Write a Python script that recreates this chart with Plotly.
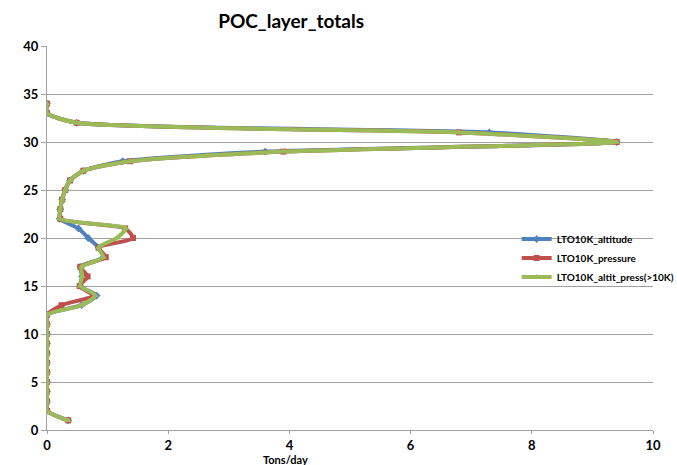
import plotly.graph_objects as go

layers = list(range(1, 35))

altitude = [0.35, 0, 0, 0, 0, 0, 0, 0, 0, 0, 0, 0,
            0.57, 0.82, 0.55, 0.58, 0.55, 0.93, 0.85, 0.68, 0.52, 0.21,
            0.22, 0.25, 0.3, 0.38, 0.6, 1.25, 3.6, 9.4, 7.3, 0.49, 0, 0]

pressure = [0.35, 0, 0, 0, 0, 0, 0, 0, 0, 0, 0, 0,
            0.24, 0.76, 0.54, 0.67, 0.55, 0.97, 0.85, 1.42, 1.29, 0.22,
            0.22, 0.25, 0.3, 0.38, 0.6, 1.37, 3.9, 9.4, 6.8, 0.49, 0, 0]

altit_press = [0.35, 0, 0, 0, 0, 0, 0, 0, 0, 0, 0, 0,
               0.57, 0.8, 0.55, 0.58, 0.57, 0.93, 0.85, 1.15, 1.3, 0.21,
               0.22, 0.25, 0.3, 0.38, 0.6, 1.37, 3.9, 9.4, 6.8, 0.49, 0, 0]

series_names = ["LTO10K_altitude", "LTO10K_pressure", "LTO10K_altit_press(>10K)"]
colors = ["#4F81BD", "#C0504D", "#9BBB59"]
symbols = ["diamond", "square", "triangle-up"]
x_ticks = [0, 2, 4, 6, 8, 10]
y_ticks = [0, 5, 10, 15, 20, 25, 30, 35, 40]

fig = go.Figure()
for name, vals, c, s in zip(series_names, [altitude, pressure, altit_press], colors, symbols):
    fig.add_trace(go.Scatter(
        x=vals, y=layers, name=name, mode="lines+markers",
        line=dict(color=c, width=4, shape="spline", smoothing=0.6),
        marker=dict(symbol=s, size=6, color=c),
    ))

font = "Lato, 'Open Sans', sans-serif"
fig.update_layout(
    width=677, height=465,
    margin=dict(l=47, r=24, t=46, b=35, autoexpand=False),
    paper_bgcolor="white", plot_bgcolor="white",
    title=dict(text="<b>POC_layer_totals</b>", x=0.43, xref="container", xanchor="center",
               y=0.955, yref="container", yanchor="middle",
               font=dict(family=font, size=19, color="black")),
    showlegend=True,
    legend=dict(x=0.775, y=0.535, xanchor="left", yanchor="top",
                font=dict(family=font, size=10, color="black", weight="bold"),
                bgcolor="rgba(0,0,0,0)", itemwidth=30, tracegroupgap=4),
    xaxis=dict(range=[0, 10], tickvals=x_ticks, showgrid=False, zeroline=False,
               showline=True, linecolor="#A0A0A0", linewidth=1,
               ticks="outside", ticklen=3, tickcolor="#A0A0A0", automargin=False,
               ticklabelstandoff=0,
               tickfont=dict(family=font, size=13, color="black", weight="bold")),
    yaxis=dict(range=[0, 40], tickvals=y_ticks, showgrid=True, gridcolor="#A0A0A0", gridwidth=1,
               zeroline=False, showline=True, linecolor="#A0A0A0", linewidth=1,
               ticks="outside", ticklen=5, tickcolor="#A0A0A0", automargin=False,
               tickfont=dict(family=font, size=13, color="black", weight="bold")),
    annotations=[dict(text="<b>Tons/day</b>", x=(285 - 47) / 606, xref="paper",
                      y=-0.078, yref="paper", yanchor="middle",
                      showarrow=False, font=dict(family=font, size=11, color="black"))],
)
fig.write_html("out.html")
